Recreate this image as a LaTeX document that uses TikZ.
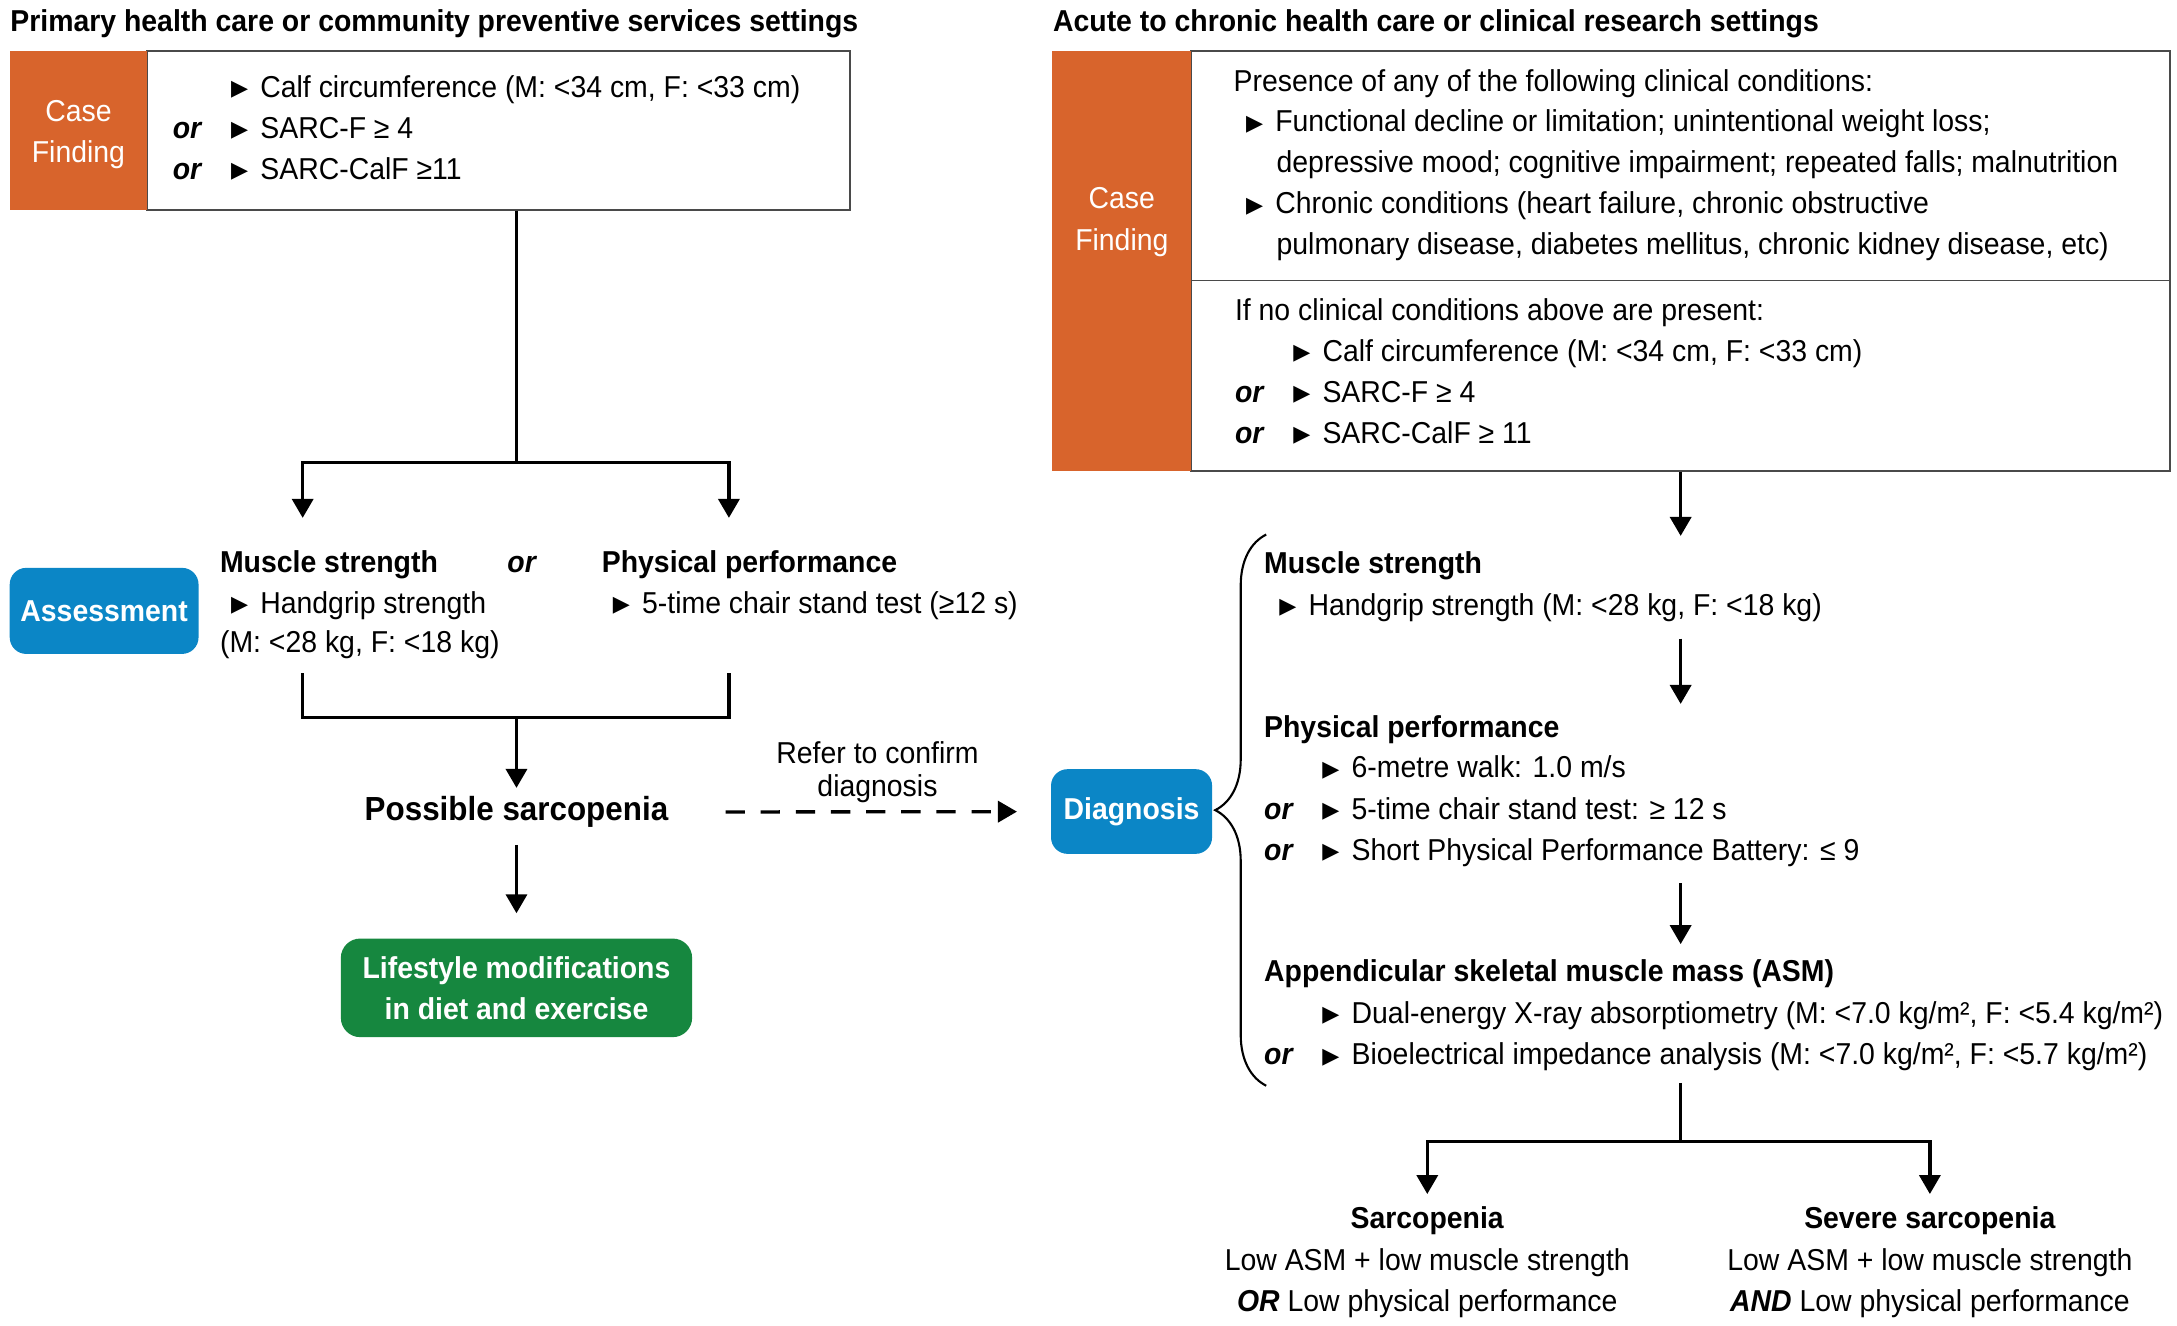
\documentclass[tikz,border=0pt]{standalone}
\usepackage{fontspec}
\setmainfont{Liberation Sans}[FakeStretch=0.94]
\newfontfamily\symfont{DejaVu Sans}
\usepackage{xcolor}
\usetikzlibrary{arrows.meta,positioning,calc,decorations.pathreplacing}

\definecolor{cforange}{HTML}{D8642C}
\definecolor{cblue}{HTML}{0B86C6}
\definecolor{cgreen}{HTML}{16873F}
\definecolor{boxgray}{HTML}{4A4A4A}

\newlength{\pxu}
\setlength{\pxu}{0.013884cm}
\newcommand{\bodyfont}{\fontsize{8.6}{11.7}\selectfont}
\newcommand{\orx}[1]{\makebox[16.6pt][l]{\bfseries\itshape #1}}
\newcommand{\tri}{\makebox[8.3pt][l]{\raisebox{0.5pt}{\symfont\fontsize{6.3}{6.3}\selectfont ▶}}}

\tikzset{
  txt/.style={inner sep=0pt, anchor=base west},
  hd/.style={txt, font=\bodyfont\bfseries},
  casebox/.style={fill=cforange, text=white, inner sep=0pt, align=center},
  wbox/.style={draw=boxgray, line width=0.5pt, fill=white, inner sep=0pt},
  bluebox/.style={fill=cblue, text=white, font=\bodyfont\bfseries, rounded corners=4.7pt, inner sep=0pt},
  grnbox/.style={fill=cgreen, text=white, font=\bodyfont\bfseries, rounded corners=5.5pt, inner sep=0pt, align=center},
  outc/.style={align=center, anchor=north, inner xsep=0pt, inner ysep=3.5pt},
  ln/.style={line width=0.95pt},
  arr/.style={ln, -{Triangle[length=5.4pt,width=6pt]}},
  brc/.style={decorate, decoration={brace, amplitude=0.51cm}, line width=0.6pt}
}

\begin{document}
\begin{tikzpicture}[x=0.013884cm, y=-0.013884cm, font=\bodyfont]
\useasboundingbox (0,0) rectangle (1568,955);

% headings
\node[hd] (hdL) at (7,23) {Primary health care or community preventive services settings};
\node[hd] (hdR) at (758,23) {Acute to chronic health care or clinical research settings};

% left: case finding
\node[wbox, minimum width=506\pxu, minimum height=114\pxu] (bxL) at (359,94) {};
\node[casebox, minimum width=99\pxu, minimum height=114\pxu] (cfL) at (56.5,94) {};
\node[casebox, fill=none] (cfLt) at (56.5,97) {Case\\Finding};
\foreach \o/\t [count=\i] in {{}/{Calf circumference (M: <34 cm, F: <33 cm)}, or/{SARC-F ≥ 4}, or/{SARC-CalF ≥11}}
  \node[txt] (cL\i) at (124,40.5+29.5*\i) {\orx{\o}\tri\t};

% left: assessment
\node[bluebox, minimum width=136\pxu, minimum height=62\pxu] (asm) at (75,440) {Assessment};
\node[hd] (msL) at (158,412) {Muscle strength};
\node[txt, font=\bodyfont\bfseries\itshape] (orL) at (365,412) {or};
\node[hd] (ppL) at (433,412) {Physical performance};
\node[txt] (hgL) at (166,442) {\tri Handgrip strength};
\node[txt] (hgLb) at (158,470) {(M: <28 kg, F: <18 kg)};
\node[txt] (csL) at (441,442) {\tri 5-time chair stand test (≥12 s)};

\node[hd, anchor=center, inner sep=2.3pt, font=\fontsize{9.5}{11.7}\selectfont\bfseries] (psbl) at (372,585) {Possible sarcopenia};
\node[grnbox, minimum width=253\pxu, minimum height=71\pxu] (lsm) at (372,711.5) {Lifestyle modifications\\in diet and exercise};

\coordinate (fkL) at (372,333);
\coordinate (tMS) at (218,373);
\coordinate (tPP) at (525,373);
\coordinate (bMS) at (218,485);
\coordinate (bPP) at (525,485);
\coordinate (jnL) at (372,517);

\draw[ln] (bxL.south -| psbl) -- (fkL);
\draw[arr] (fkL) -| (tMS);
\draw[arr] (fkL) -| (tPP);
\draw[ln] (bMS) |- (jnL) -| (bPP);
\draw[arr] (jnL) -- (psbl);
\draw[arr, shorten <=2.4pt, shorten >=7pt] (psbl) -- (lsm);

% right: case finding
\node[wbox, minimum width=705\pxu, minimum height=165\pxu] (bxRa) at (1210.5,119.5) {};
\node[wbox, minimum width=705\pxu, minimum height=137\pxu] (bxRb) at (1210.5,270.5) {};
\node[casebox, minimum width=100\pxu, minimum height=302\pxu] (cfR) at (808,188) {};
\node[casebox, fill=none] (cfRt) at (808,160) {Case\\Finding};

\node[txt] (prs) at (888,66) {Presence of any of the following clinical conditions:};
\node[txt] (cc1) at (897,95) {\tri Functional decline or limitation; unintentional weight loss;};
\node[txt] (cc1b) at (919,124) {depressive mood; cognitive impairment; repeated falls; malnutrition};
\node[txt] (cc2) at (897,154) {\tri Chronic conditions (heart failure, chronic obstructive};
\node[txt] (cc2b) at (919,183) {pulmonary disease, diabetes mellitus, chronic kidney disease, etc)};
\node[txt] (ifno) at (889,231) {If no clinical conditions above are present:};
\foreach \o/\t [count=\i] in {{}/{Calf circumference (M: <34 cm, F: <33 cm)}, or/{SARC-F ≥ 4}, or/{SARC-CalF ≥ 11}}
  \node[txt] (cR\i) at (889,230.5+29.6*\i) {\orx{\o}\tri\t};

% right: diagnosis
\node[bluebox, minimum width=116\pxu, minimum height=61\pxu] (dgn) at (815,584.5) {Diagnosis};
\coordinate (brB) at (912,782);
\coordinate (brT) at (912,385);
\draw[brc] (brB) -- (brT);

\node[hd] (msR) at (910,413) {Muscle strength};
\node[txt] (hgR) at (921,443) {\tri Handgrip strength (M: <28 kg, F: <18 kg)};
\node[hd] (ppR) at (910,531) {Physical performance};
\foreach \o/\t [count=\i] in {{}/{6-metre walk: 1.0 m/s}, or/{5-time chair stand test: ≥ 12 s}, or/{Short Physical Performance Battery: ≤ 9}}
  \node[txt] (pR\i) at (910,530.5+29.7*\i) {\orx{\o}\tri\t};
\node[hd] (asmR) at (910,707) {Appendicular skeletal muscle mass (ASM)};
\foreach \o/\t [count=\i] in {{}/{Dual-energy X-ray absorptiometry (M: <7.0 kg/m², F: <5.4 kg/m²)}, or/{Bioelectrical impedance analysis (M: <7.0 kg/m², F: <5.7 kg/m²)}}
  \node[txt] (mR\i) at (910,707+30*\i) {\orx{\o}\tri\t};

\coordinate (tDg) at (1210.5,386);
\coordinate (a1s) at (1210.5,460);
\coordinate (a1e) at (1210.5,507);
\coordinate (a2s) at (1210.5,636);
\coordinate (a2e) at (1210.5,680);
\coordinate (oTop) at (1210.5,780);
\coordinate (fkR) at (1210.5,822);

\draw[arr] (bxRb) -- (tDg);
\draw[arr] (a1s) -- (a1e);
\draw[arr] (a2s) -- (a2e);

% outcomes
\node[outc] (sarc) at (1028,860) {\textbf{Sarcopenia}\\Low ASM + low muscle strength\\\textbf{\textit{OR}} Low physical performance};
\node[outc] (sev) at (1390,860) {\textbf{Severe sarcopenia}\\Low ASM + low muscle strength\\\textbf{\textit{AND}} Low physical performance};
\draw[ln] (oTop) -- (fkR);
\draw[arr] (fkR) -| (sarc.north);
\draw[arr] (fkR) -| (sev.north);

% referral
\draw[arr, dash pattern=on 5.5pt off 4.5pt, shorten <=13.8pt, shorten >=9.5pt] (psbl) -- (dgn);
\node[txt, anchor=center, align=center, font=\fontsize{8.6}{9.4}\selectfont] (rfr) at (632,556) {Refer to confirm\\diagnosis};
\end{tikzpicture}
\end{document}
